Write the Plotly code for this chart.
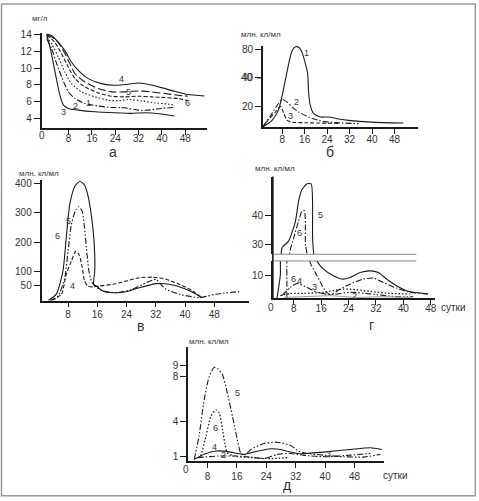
import numpy as np
import plotly.graph_objects as go

W, H = 479, 501
FONT = 'Liberation Sans, Arial, sans-serif'
INK = '#1a1a1a'
TXT = '#333333'

# ---- panel а: dissolved oxygen, мг/л ----
A_TICKS_X = [8, 16, 24, 32, 40, 48]
A_TICKS_Y = [4, 6, 8, 10, 12, 14]
A4_X = [0.5, 2.2, 4.5, 6.7, 9.0, 11.3, 14.7, 19.3, 23.8, 28.4, 31.8, 35.2, 39.8, 44.3, 48.9, 54.6]
A4_Y = [14.08, 13.88, 13.08, 12.1, 10.7, 9.71, 8.73, 8.13, 7.93, 8.05, 8.2, 8.05, 7.65, 7.21, 6.82, 6.65]
A5_X = [0.5, 3.3, 5.6, 7.9, 10.2, 13.6, 18.2, 22.7, 27.2, 31.8, 36.4, 40.9, 45.5, 48.9]
A5_Y = [14.0, 13.5, 12.5, 10.9, 9.32, 8.32, 7.54, 7.14, 7.14, 7.25, 7.14, 6.94, 6.74, 6.62]
A6_X = [0.5, 3.3, 5.6, 7.9, 10.2, 13.6, 18.2, 22.7, 27.2, 31.8, 36.4, 40.9, 45.5, 49.0]
A6_Y = [14.0, 13.08, 11.7, 10.1, 8.73, 7.73, 7.01, 6.62, 6.54, 6.62, 6.54, 6.46, 6.34, 6.06]
A1_X = [0.5, 2.2, 4.5, 6.7, 9.0, 12.4, 17.0, 21.6, 25.0, 28.4, 33.0, 37.5, 42.1, 44.3]
A1_Y = [13.7, 12.9, 11.3, 9.51, 8.13, 7.14, 6.54, 6.14, 6.06, 6.22, 6.06, 5.82, 5.67, 5.55]
A2_X = [0.5, 2.2, 3.9, 5.6, 7.9, 10.2, 13.6, 18.2, 22.7, 27.2, 31.8, 35.2, 39.8, 44.3]
A2_Y = [13.5, 12.3, 10.5, 8.92, 7.14, 6.34, 5.75, 5.43, 5.27, 5.23, 4.95, 4.95, 5.15, 5.27]
A3_X = [0.5, 1.6, 2.8, 3.9, 5.0, 6.2, 7.9, 11.3, 17.0, 23.8, 29.5, 34.1, 39.8, 44.3]
A3_Y = [14.0, 12.5, 10.5, 8.52, 6.74, 5.55, 5.15, 4.95, 4.75, 4.63, 4.56, 4.63, 4.48, 4.24]

# ---- panel б: млн. кл/мл, drawn on a logarithmic value scale ----
B_TICKS_X = [8, 16, 24, 32, 40, 48]
B_TICKS_Y = [20, 40, 80]
B_RANGE = [12.08, 86.85]
B1_X = [1.1, 4.4, 6.8, 8.0, 9.2, 10.4, 11.5, 12.7, 13.9, 15.1, 16.3, 17.1, 17.4, 18.0, 19.2, 21.6, 24.5, 28.1, 31.6, 39.9, 51.1]
B1_Y = [12.1, 14.2, 18.8, 25.9, 38.8, 58, 77, 85, 84, 73.8, 55.7, 43.7, 28.1, 20.4, 16.7, 15.4, 15.4, 14.7, 14.2, 13.6, 13.3]
B2_X = [1.1, 3.9, 6.2, 8.0, 9.8, 11.5, 13.9, 17.4, 21.0, 24.5, 28.0, 35.2]
B2_Y = [12.1, 16.0, 20.4, 23.6, 22.1, 19.6, 17.4, 15.4, 14.2, 13.6, 13.4, 13.1]
B3_X = [1.1, 3.3, 5.6, 7.4, 8.6, 9.8, 11.5, 16.3, 28.0]
B3_Y = [12.1, 14.7, 17.4, 19.9, 16.7, 14.2, 13.6, 13.4, 13.2]

# ---- panel в ----
V_TICKS_X = [8, 16, 24, 32, 40, 48]
V_TICKS_Y = [50, 100, 200, 300, 400]
V6_X = [2.5, 4.8, 6.6, 7.5, 8.45, 9.8, 11.2, 12.5, 13.4, 14.8, 15.3, 15.3, 15.0, 15.7, 17.5, 20.3, 23.9, 27.5, 32.1, 35.7, 40.3, 44.4]
V6_Y = [0, 22, 101, 214, 327, 389, 408, 395, 361, 248, 157, 101, 56, 50, 33, 27, 30, 44, 58, 56, 39, 13]
V5_X = [3.0, 5.3, 7.1, 8.0, 8.9, 10.1, 11.0, 11.9, 12.5, 13.2, 13.7, 14.4, 15.3, 17.5, 21.2, 25.7, 29.4, 32.1, 33.0, 34.8, 38.4, 43.9, 48.4, 54.8]
V5_Y = [0, 16, 78, 169, 259, 310, 321, 304, 248, 157, 101, 67, 50, 33, 27, 39, 61, 73, 61, 39, 22, 10, 22, 31]
V4_X = [3.5, 6.2, 7.5, 8.9, 10.1, 11.0, 11.9, 12.5, 13.4, 14.8, 16.6, 20.3, 23.9, 27.5, 31.2, 34.8, 38.4, 42.1, 44.4]
V4_Y = [0, 22, 90, 135, 169, 157, 112, 67, 50, 47, 50, 56, 67, 78, 80, 73, 56, 33, 10]

# ---- panel г (broken axis) ----
G_TICKS_X = [8, 16, 24, 32, 40, 48]
G_TICKS_LOW = [10]
G_TICKS_UP = [30, 40]
G5_X = [3.1, 3.6, 4.1, 4.1, 4.6, 6.5, 8.5, 9.4, 10.4, 11.9, 13.1, 13.5, 13.5, 13.8, 14.8, 16.7, 19.6, 22.0, 24.5, 27.4, 30.3, 32.7, 35.1, 38.0, 40.9, 42.9, 47.2]
G5_Y = [0, 4.7, 10.4, 16.1, 28.8, 31.1, 38, 44.9, 49, 51, 51, 43.8, 32.3, 27.1, 16.1, 12.6, 9.7, 8.3, 9.0, 11.1, 11.8, 11.1, 8.3, 5.4, 3.3, 2.6, 1.9]
G6_X = [6.0, 6.0, 6.0, 6.8, 8.0, 9.4, 10.4, 11.1, 11.4, 11.4, 11.9, 12.8, 14.3, 15.8, 17.2, 18.7, 21.6, 24.5, 28.3, 31.3, 34.2, 38.0, 41.9, 47.2]
G6_Y = [0, 7.6, 16.1, 27.1, 32.3, 38, 41.5, 41.7, 36.9, 30, 26.6, 15.4, 11.1, 6.8, 3.3, 1.6, 4.0, 6.2, 8.3, 8.7, 6.8, 4.4, 2.6, 1.9]
G4_X = [4.6, 7.0, 9.0, 11.9, 14.8, 18.7, 24.5, 30.3, 38.0, 42.9]
G4_Y = [1.2, 4.7, 6.4, 4.7, 2.6, 1.6, 2.6, 1.9, 0.7, 0.7]
G3_X = [4.1, 7.0, 10.9, 16.7, 22.5, 26.4, 30.3, 36.1, 41.9]
G3_Y = [1.2, 2.1, 2.1, 2.6, 4.0, 3.7, 3.0, 2.1, 1.9]
G2_X = [5.1, 10.9, 18.7, 26.4, 34.2, 41.9]
G2_Y = [0.4, 0.7, 1.1, 0.4, 0.7, 0.4]

# ---- panel д ----
D_TICKS_X = [8, 16, 24, 32, 40, 48]
D_TICKS_Y = [1, 4, 8, 9]
D5_X = [4.4, 5.7, 7.1, 8.45, 9.8, 10.7, 12.1, 13.4, 14.8, 16.1, 17.0, 17.9, 19.8, 23.4, 27.0, 30.6, 32.8, 35.1, 39.6, 45.0, 50.5, 55.0]
D5_Y = [0.71, 2.74, 5.95, 7.98, 8.8, 8.71, 8.13, 6.53, 4.49, 2.46, 1.29, 1.06, 1.58, 2.11, 2.22, 1.93, 1.43, 1.23, 1.08, 0.94, 0.91, 1.15]
D6_X = [6.2, 7.6, 8.9, 10.3, 11.2, 12.1, 12.7, 13.4, 15.2, 19.8, 25.2, 29.7]
D6_Y = [1.0, 2.74, 4.49, 5.07, 4.78, 3.33, 2.17, 1.29, 1.0, 0.86, 0.78, 0.86]
D4_X = [4.4, 7.1, 9.8, 12.5, 15.2, 17.9, 21.5, 25.2, 27.9, 30.6, 33.3, 39.6, 46.9, 52.3, 55.4]
D4_Y = [0.71, 1.15, 1.43, 1.43, 1.29, 1.15, 1.43, 1.64, 1.58, 1.35, 1.2, 1.35, 1.58, 1.73, 1.58]
D3_X = [5.3, 10.7, 16.1, 19.8, 23.4, 27.0, 30.6, 34.2, 40.5, 46.9, 52.3]
D3_Y = [0.86, 1.0, 1.0, 0.91, 0.78, 1.15, 1.23, 1.06, 0.94, 1.08, 1.23]


def px(x):
    return x / W


def py(y):
    return 1 - y / H


SOLID = 'solid'
DOT = '1.5px,2px'
DASH = '4px,2px'
LONGDASH = '8px,3px'
DASHDOT = '6px,2px,1.5px,2px'
DASHDOTDOT = '6px,2px,1.5px,2px,1.5px,2px'

fig = go.Figure()


def curve(x, y, dash, n, color=INK, width=1.1):
    fig.add_trace(go.Scatter(
        x=x, y=y, mode='lines', xaxis=f'x{n}', yaxis=f'y{n}',
        line=dict(color=color, width=width, dash=dash, shape='spline', smoothing=0.6),
        hoverinfo='skip', showlegend=False, cliponaxis=True))


# а
curve(A4_X, A4_Y, SOLID, '')
curve(A5_X, A5_Y, LONGDASH, '')
curve(A6_X, A6_Y, DASH, '')
curve(A1_X, A1_Y, DOT, '')
curve(A2_X, A2_Y, DASHDOT, '')
curve(A3_X, A3_Y, SOLID, '')
# б: log scale applied here, the axis itself is linear in log10 units
curve(B1_X, np.log10(B1_Y), SOLID, 2)
curve(B2_X, np.log10(B2_Y), DASHDOT, 2)
curve(B3_X, np.log10(B3_Y), DASH, 2)
# в
curve(V6_X, V6_Y, SOLID, 3)
curve(V5_X, V5_Y, DASHDOTDOT, 3)
curve(V4_X, V4_Y, DASH, 3)
# г: every curve on both halves of the broken axis
for n in (4, 5):
    curve(G5_X, G5_Y, SOLID, n)
    curve(G6_X, G6_Y, DASHDOT, n)
    curve(G4_X, G4_Y, DASHDOTDOT, n)
    curve(G3_X, G3_Y, DOT, n, width=1.3)
    curve(G2_X, G2_Y, SOLID, n, color='#999999', width=1)
# д
curve(D5_X, D5_Y, DASHDOTDOT, 6)
curve(D6_X, D6_Y, DOT, 6, width=1.3)
curve(D4_X, D4_Y, SOLID, 6)
curve(D3_X, D3_Y, DASHDOT, 6)

TICKFONT = dict(family=FONT, size=10, color=TXT)
BASE = dict(showline=True, linecolor=INK, linewidth=1.6, tickwidth=1.2, tickcolor=INK,
            showgrid=False, zeroline=False, tickfont=TICKFONT, fixedrange=True)


def xax(dom, rng, tickvals, anchor, standoff=0, **kw):
    return dict(domain=[px(dom[0]), px(dom[1])], range=rng, anchor=anchor,
                ticks='outside', ticklen=5, ticklabelstandoff=standoff,
                tickmode='array', tickvals=tickvals, ticktext=[str(v) for v in tickvals],
                **BASE, **kw)


def yax(dom, rng, tickvals, anchor, ticktext=None, **kw):
    return dict(domain=[py(dom[0]), py(dom[1])], range=rng, anchor=anchor,
                ticks='outside', ticklen=6, tickmode='array', tickvals=tickvals,
                ticktext=ticktext or [str(v) for v in tickvals], **BASE, **kw)


layout = dict(
    width=W, height=H, margin=dict(l=0, r=0, t=0, b=0),
    paper_bgcolor='white', plot_bgcolor='rgba(0,0,0,0)',
    font=dict(family=FONT, color=TXT), showlegend=False,
)

B_DOM_X = (264, 420)
B_DOM_Y = (125, 43.3)
B_LOG_RANGE = np.log10(B_RANGE).tolist()
axes = {
    1: (xax((41.7, 208), [-1.3, 55.5], A_TICKS_X, 'y', standoff=-5),
        yax((126, 30), [2.8, 14.24], A_TICKS_Y, 'x')),
    2: (xax(B_DOM_X, [1.13, 56.45], B_TICKS_X, 'y2', standoff=-3),
        yax(B_DOM_Y, B_LOG_RANGE, np.log10(B_TICKS_Y).tolist(), 'x2',
            ticktext=[str(v) for v in B_TICKS_Y])),
    3: (xax((41.7, 250), [0.74, 57.5], V_TICKS_X, 'y3', standoff=-1),
        yax((300, 178), [0, 413.6], V_TICKS_Y, 'x3')),
    4: (xax((274, 437), [1.9, 49.3], G_TICKS_X, 'y4', standoff=-5),
        yax((297.7, 260), [0, 16.1], G_TICKS_LOW, 'x4')),
    5: (xax((274, 437), [1.9, 49.3], G_TICKS_X, 'y5', visible=False),
        yax((253.3, 175), [26.55, 53.5], G_TICKS_UP, 'x5')),
    6: (xax((189, 386), [2.76, 56.1], D_TICKS_X, 'y6', standoff=0),
        yax((461.7, 346.7), [0.564, 10.6], D_TICKS_Y, 'x6')),
}
for n, (xa, ya) in axes.items():
    k = '' if n == 1 else str(n)
    layout[f'xaxis{k}'] = xa
    layout[f'yaxis{k}'] = ya

# inside half of the crossing tick marks: overlay axes without labels
# (panel б keeps outside-only ticks on its value axis, as in the source)
INNER = dict(ticks='inside', tickwidth=1.2, tickcolor=INK, showticklabels=False,
             showline=False, showgrid=False, zeroline=False, fixedrange=True,
             tickmode='array')
m = 7
for n, (xa, ya) in axes.items():
    k = '' if n == 1 else str(n)
    if xa.get('visible', True):
        layout[f'xaxis{m}'] = dict(overlaying=f'x{k}', anchor=f'y{k}', ticklen=5,
                                   range=xa['range'], tickvals=xa['tickvals'], **INNER)
    if n != 2:
        layout[f'yaxis{m}'] = dict(overlaying=f'y{k}', anchor=f'x{k}', ticklen=6,
                                   range=ya['range'], tickvals=ya['tickvals'], **INNER)
    m += 1

fig.update_layout(**layout)

# б: the "40" label kept failing to show on the axis, so it is also written
# as a paper annotation at the place the axis puts 40
b_frac = (np.log10(40) - B_LOG_RANGE[0]) / (B_LOG_RANGE[1] - B_LOG_RANGE[0])
b_mid_py = B_DOM_Y[0] - b_frac * (B_DOM_Y[0] - B_DOM_Y[1])
fig.add_shape(type='line', xref='paper', yref='paper',
              x0=px(B_DOM_X[0] - 6), x1=px(B_DOM_X[0]), y0=py(b_mid_py), y1=py(b_mid_py),
              line=dict(color=INK, width=1.2))
fig.add_annotation(x=px(B_DOM_X[0] - 8), y=py(b_mid_py), xref='paper', yref='paper',
                   text='40', showarrow=False, xanchor='right', yanchor='middle',
                   font=dict(family=FONT, size=10, color=TXT))

# break of the г axis: two grey lines and a continuous y axis
fig.add_shape(type='line', xref='x4', yref='y4 domain', x0=1.9, x1=43.8, y0=1, y1=1,
              line=dict(color='#8a8a8a', width=1))
fig.add_shape(type='line', xref='x5', yref='y5 domain', x0=1.9, x1=43.8, y0=0, y1=0,
              line=dict(color='#8a8a8a', width=1))
fig.add_shape(type='line', xref='x4 domain', yref='paper', x0=0, x1=0,
              y0=py(297.7), y1=py(175), line=dict(color=INK, width=1.6))

# frame round the whole figure
fig.add_shape(type='rect', xref='paper', yref='paper', x0=px(1.5), x1=px(477.3),
              y0=py(496.7), y1=py(1), line=dict(color='#9a9a9a', width=1.5))


def label(x, y, text, size=9):
    fig.add_annotation(x=px(x), y=py(y), xref='paper', yref='paper', text=text,
                       showarrow=False, font=dict(family=FONT, size=size, color=TXT),
                       xanchor='center', yanchor='middle')


# curve numbers
for x, y, t in [(122, 76.3, '4'), (128.7, 89.7, '5'), (188.7, 101.3, '6'),
                (88.7, 100.7, '1'), (76.3, 104, '2'), (63.7, 109.7, '3'),
                (307.7, 50, '1'), (297.3, 99.3, '2'), (291.7, 114, '3'),
                (68.3, 219.3, '5'), (57.3, 235.3, '6'), (73.3, 285.7, '4'),
                (322.3, 213.3, '5'), (301, 231.7, '6'), (295, 278.3, '6'),
                (301, 280, '4'), (315.7, 286.7, '3'), (356, 295, '2'),
                (238.3, 393.3, '5'), (216, 428.3, '6'), (215, 447.3, '4'),
                (224.3, 456, '2'), (330, 455, '3')]:
    label(x, y, t)

# units
label(40.5, 15.7, 'мг/л', 8)
label(262.5, 31.7, 'млн. кл/мл', 8)
label(39, 172, 'млн. кл/мл', 8)
label(276, 167.3, 'млн. кл/мл', 8)
label(210, 341, 'млн. кл/мл', 8)

# origins and day captions
label(41.7, 134, '0', 10)
label(271.7, 306.7, '0', 10)
label(186.7, 470, '0', 10)
label(455, 306.7, 'сутки', 10)
label(396.7, 476.7, 'сутки', 10)

# panel letters
for x, y, t in [(113, 150, 'а'), (331.7, 150, 'б'), (141.3, 325.7, 'в'),
                (373.3, 325, 'г'), (288.3, 485.7, 'д')]:
    label(x, y, t, 14)

# the page's default body margin would push the figure 8 px off the window
fig.write_html('out.html', config={'displayModeBar': False},
               post_script="document.body.style.margin='0';document.body.style.overflow='hidden';")
